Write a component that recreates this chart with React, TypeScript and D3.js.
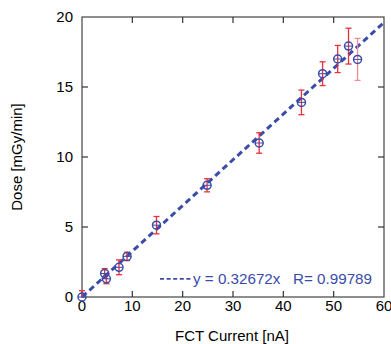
import { useEffect, useRef } from "react"
import * as d3 from "d3"

// measured points: FCT current [nA], dose [mGy/min], dose error
const current = [0, 4.5, 4.85, 7.35, 8.95, 14.8, 24.85, 35.2, 43.6, 47.8, 50.8, 52.95, 54.75]
const dose = [0, 1.68, 1.3, 2.12, 2.9, 5.13, 7.98, 11.0, 13.9, 15.95, 17.0, 17.92, 16.97]
const doseErr = [0.45, 0.35, 0.35, 0.53, 0.3, 0.62, 0.47, 0.73, 0.88, 0.85, 0.97, 1.28, 1.5]
const slope = 0.32672
const xTicks = [0, 10, 20, 30, 40, 50, 60]
const yTicks = [0, 5, 10, 15, 20]

const App = () => {
  const svgRef = useRef<SVGSVGElement>(null)

  useEffect(() => {
    const svg = d3.select(svgRef.current)
    svg.selectAll("*").remove()

    const margin = { top: 17, right: 7, bottom: 47, left: 82 }
    const width = 391 - margin.left - margin.right
    const height = 344 - margin.top - margin.bottom

    const g = svg.append("g").attr("transform", `translate(${margin.left},${margin.top})`)

    const x = d3.scaleLinear().domain([0, 60]).range([0, width])
    const y = d3.scaleLinear().domain([0, 20]).range([height, 0])

    const font = "Arial, 'Liberation Sans', sans-serif"
    const blue = "#3a4ca8"

    // frame
    g.append("rect")
      .attr("width", width)
      .attr("height", height)
      .attr("fill", "none")
      .attr("stroke", "#444")
      .attr("stroke-width", 1.2)

    // inner ticks on all sides
    xTicks.slice(1, -1).forEach((t) => {
      g.append("line").attr("x1", x(t)).attr("x2", x(t)).attr("y1", height).attr("y2", height - 6).attr("stroke", "#333").attr("stroke-width", 1.2)
      g.append("line").attr("x1", x(t)).attr("x2", x(t)).attr("y1", 0).attr("y2", 6).attr("stroke", "#333").attr("stroke-width", 1.2)
    })
    yTicks.slice(1, -1).forEach((t) => {
      g.append("line").attr("x1", 0).attr("x2", 6).attr("y1", y(t)).attr("y2", y(t)).attr("stroke", "#333").attr("stroke-width", 1.2)
      g.append("line").attr("x1", width).attr("x2", width - 6).attr("y1", y(t)).attr("y2", y(t)).attr("stroke", "#333").attr("stroke-width", 1.2)
    })

    // tick labels
    g.selectAll(".xl")
      .data(xTicks)
      .enter()
      .append("text")
      .attr("x", (d) => x(d))
      .attr("y", height + 14)
      .attr("text-anchor", "middle")
      .style("font-family", font)
      .style("font-size", "15px")
      .text((d) => d)

    g.selectAll(".yl")
      .data(yTicks)
      .enter()
      .append("text")
      .attr("x", -9)
      .attr("y", (d) => y(d) + 5)
      .attr("text-anchor", "end")
      .style("font-family", font)
      .style("font-size", "15px")
      .text((d) => d)

    // axis titles
    g.append("text")
      .attr("x", width / 2 - 1)
      .attr("y", height + 44)
      .attr("text-anchor", "middle")
      .style("font-family", font)
      .style("font-size", "15px")
      .text("FCT Current [nA]")

    g.append("text")
      .attr("transform", "rotate(-90)")
      .attr("x", -height / 2)
      .attr("y", -60)
      .attr("text-anchor", "middle")
      .style("font-family", font)
      .style("font-size", "15px")
      .text("Dose [mGy/min]")

    // fit line
    g.append("line")
      .attr("x1", x(0))
      .attr("y1", y(0))
      .attr("x2", x(60))
      .attr("y2", y(slope * 60))
      .attr("stroke", blue)
      .attr("stroke-width", 3)
      .attr("stroke-dasharray", "6,4")

    const pts = current.map((c, i) => ({ c, d: dose[i], e: doseErr[i], i }))

    // error bars
    const eb = g.selectAll(".eb").data(pts).enter().append("g")
      .attr("stroke", (d) => (d.i === pts.length - 1 ? "#f28b92" : "#e8303c"))
      .attr("stroke-width", 1.3)
    eb.append("line")
      .attr("x1", (d) => x(d.c)).attr("x2", (d) => x(d.c))
      .attr("y1", (d) => y(Math.max(0, d.d - d.e))).attr("y2", (d) => y(d.d + d.e))
    eb.append("line")
      .attr("x1", (d) => x(d.c) - 3).attr("x2", (d) => x(d.c) + 3)
      .attr("y1", (d) => y(d.d + d.e)).attr("y2", (d) => y(d.d + d.e))
    eb.filter((d) => d.d - d.e > 0).append("line")
      .attr("x1", (d) => x(d.c) - 3).attr("x2", (d) => x(d.c) + 3)
      .attr("y1", (d) => y(d.d - d.e)).attr("y2", (d) => y(d.d - d.e))

    // markers
    const mk = g.selectAll(".mk").data(pts).enter().append("g")
      .attr("stroke", blue).attr("fill", "none").attr("stroke-width", 1.5)
    mk.append("circle").attr("cx", (d) => x(d.c)).attr("cy", (d) => y(d.d)).attr("r", 4)
    mk.append("line")
      .attr("x1", (d) => x(d.c) - 4).attr("x2", (d) => x(d.c) + 4)
      .attr("y1", (d) => y(d.d)).attr("y2", (d) => y(d.d))
      .attr("stroke-width", 1)

    // legend
    g.append("line")
      .attr("x1", 78).attr("x2", 110)
      .attr("y1", y(1.3)).attr("y2", y(1.3))
      .attr("stroke", blue).attr("stroke-width", 1.8).attr("stroke-dasharray", "4,2.6")
    g.append("text")
      .attr("x", 111)
      .attr("y", y(1.3) + 5.5)
      .attr("fill", blue)
      .style("font-family", font)
      .style("font-size", "15.2px")
      .attr("xml:space", "preserve")
      .text("y = 0.32672x   R= 0.99789")
  }, [])

  return (
    <svg ref={svgRef} width={391} height={344} style={{ position: "absolute", left: 0, top: 0, background: "#fff" }}></svg>
  )
}

export default App
